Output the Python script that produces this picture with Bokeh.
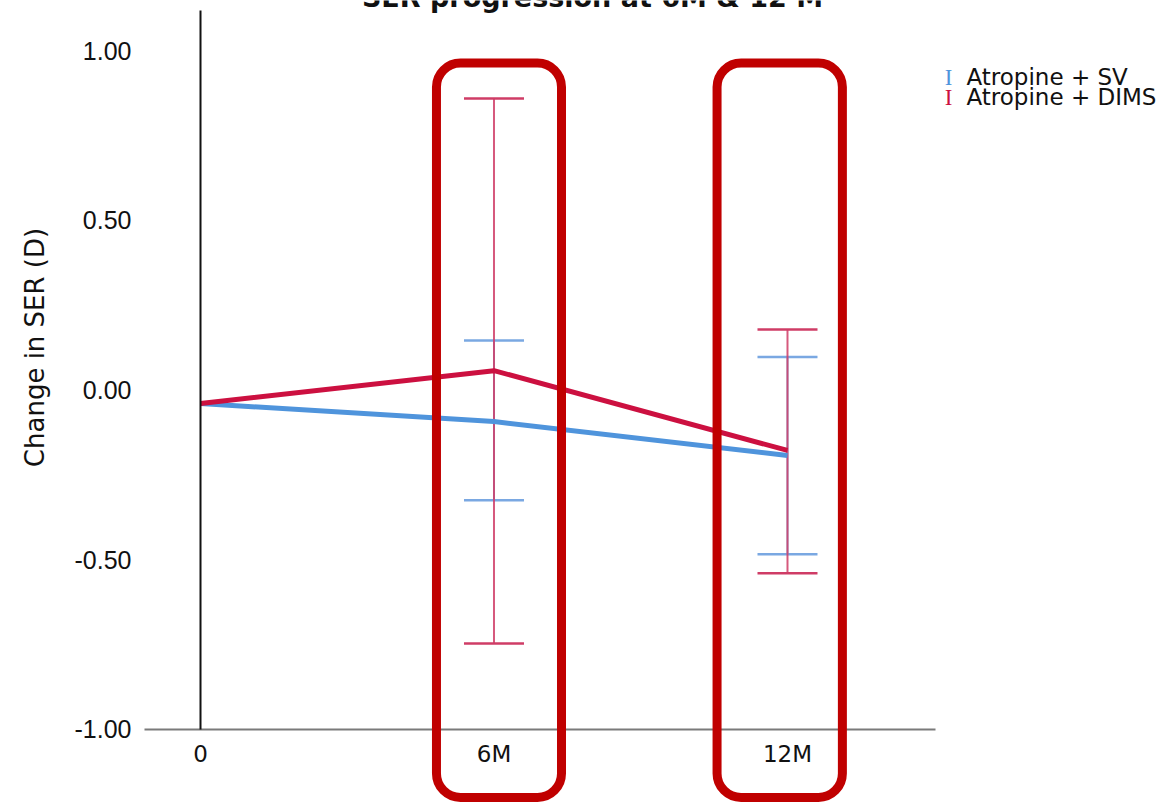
import math
from bokeh.plotting import figure
from bokeh.models import (ColumnDataSource, Whisker, TeeHead, BoxAnnotation,
                          Label, FixedTicker, NumeralTickFormatter, Range1d)
from bokeh.embed import file_html
from bokeh.resources import INLINE

# ---- data ----
time_points = [0, 1, 2]
time_labels = ["0", "6M", "12M"]

sv_mean = [-0.04, -0.093, -0.193]
sv_lower = [-0.325, -0.484]      # at 6M, 12M
sv_upper = [0.146, 0.097]

dims_mean = [-0.04, 0.057, -0.178]
dims_lower = [-0.747, -0.540]
dims_upper = [0.859, 0.178]

y_ticks = [-1.0, -0.5, 0.0, 0.5, 1.0]
series_names = ["Atropine + SV", "Atropine + DIMS"]
title_text = "SER progression at 6M & 12 M"
y_label = "Change in SER (D)"

SV_COLOR = "#4f94dc"
SV_BAR = "#7aa8e2"
DIMS_COLOR = "#cc1040"
DIMS_BAR = "#cf3c66"
BOX_COLOR = "#c00000"
FONT = "DejaVu Sans"

# the frame covers the whole canvas; axes are pinned at fixed data locations
p = figure(width=1163, height=803,
           min_border_left=0, min_border_right=0,
           min_border_top=0, min_border_bottom=0,
           x_range=Range1d(-0.6814, 3.2811), y_range=Range1d(-1.218, 1.1473),
           output_backend="svg", toolbar_location=None)
p.outline_line_color = None
p.grid.visible = False
p.background_fill_color = "white"
p.border_fill_color = "white"

# x axis, drawn at y = -1
xa = p.xaxis[0]
xa.fixed_location = -1.0
xa.bounds = (-0.191, 2.504)
xa.ticker = FixedTicker(ticks=time_points)
xa.major_label_overrides = {t: l for t, l in zip(time_points, time_labels)}
xa.major_tick_out = 0
xa.major_tick_in = 0
xa.minor_tick_out = 0
xa.minor_tick_in = 0
xa.axis_line_color = "#7a7a7a"
xa.axis_line_width = 2
xa.major_label_standoff = 12
xa.major_label_text_font = FONT
xa.major_label_text_font_size = "23px"
xa.major_label_text_color = "#111111"

# y axis, drawn at x = 0 (time 0), from -1 up to the top of the plot
ya = p.yaxis[0]
ya.fixed_location = 0
ya.bounds = (-1.0, 1.118)
ya.ticker = FixedTicker(ticks=y_ticks)
ya.formatter = NumeralTickFormatter(format="0.00")
ya.major_tick_out = 0
ya.major_tick_in = 0
ya.minor_tick_out = 0
ya.minor_tick_in = 0
ya.axis_line_color = "#111111"
ya.axis_line_width = 2
ya.major_label_standoff = 69
ya.major_label_text_font = "Liberation Sans"
ya.major_label_text_font_size = "25px"
ya.major_label_text_color = "#111111"

# y axis title
p.add_layout(Label(x=-0.5622, y=0.1252, text=y_label, angle=math.pi / 2,
                   text_align="center", text_baseline="middle", text_font=FONT,
                   text_font_size="26px", text_color="#111111"))

# error bars
sv_src = ColumnDataSource(dict(x=time_points[1:], lower=sv_lower, upper=sv_upper))
dims_src = ColumnDataSource(dict(x=time_points[1:], lower=dims_lower, upper=dims_upper))

p.add_layout(Whisker(base="x", lower="lower", upper="upper", source=sv_src,
                     line_color=SV_BAR, line_width=2, line_alpha=0.9,
                     upper_head=TeeHead(size=60, line_color=SV_BAR, line_width=2.5),
                     lower_head=TeeHead(size=60, line_color=SV_BAR, line_width=2.5)))
p.add_layout(Whisker(base="x", lower="lower", upper="upper", source=dims_src,
                     line_color=DIMS_BAR, line_width=2, line_alpha=0.85,
                     upper_head=TeeHead(size=60, line_color=DIMS_BAR, line_width=2.5),
                     lower_head=TeeHead(size=60, line_color=DIMS_BAR, line_width=2.5)))

# mean lines
p.line(time_points, sv_mean, line_color=SV_COLOR, line_width=5)
p.line(time_points, dims_mean, line_color=DIMS_COLOR, line_width=5)

# highlight boxes
for left, right in [(0.804, 1.230), (1.760, 2.187)]:
    p.add_layout(BoxAnnotation(left=left, right=right, top=0.963, bottom=-1.20,
                               fill_color=None, fill_alpha=0, line_color=BOX_COLOR,
                               line_alpha=1.0, line_width=9, border_radius=24))

# title (cut off at the top as in the reference)
p.add_layout(Label(x=1.3356, y=1.155, text=title_text, text_align="center",
                   text_baseline="alphabetic", text_font=FONT, text_font_style="bold",
                   text_font_size="27px", text_color="#111111"))

# legend
legend_rows_y = [0.9205, 0.8616]
for name, col, yy in zip(series_names, [SV_COLOR, DIMS_COLOR], legend_rows_y):
    p.add_layout(Label(x=2.5486, y=yy, text="I", text_align="center",
                       text_baseline="middle", text_font="Liberation Serif",
                       text_font_size="23px", text_color=col))
    p.add_layout(Label(x=2.6099, y=yy, text=name, text_align="left",
                       text_baseline="middle", text_font=FONT,
                       text_font_size="23px", text_color="#111111"))

open("out.html", "w").write(file_html(p, INLINE))
